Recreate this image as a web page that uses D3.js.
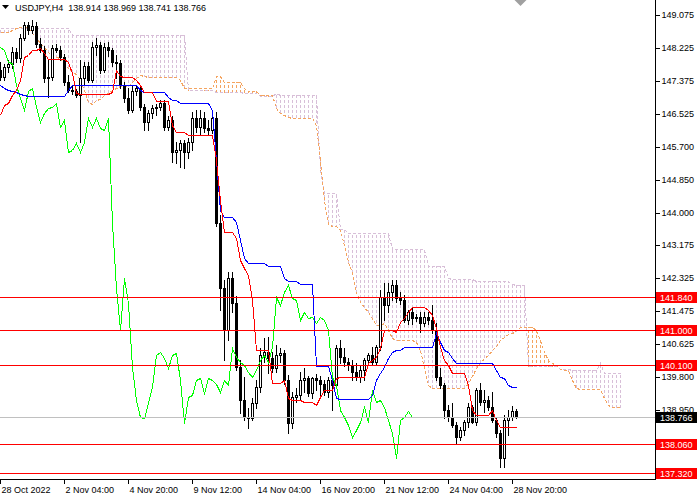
<!DOCTYPE html>
<html>
<head>
<meta charset="utf-8">
<script src="https://cdn.jsdelivr.net/npm/d3@7"></script>
<style>
body { margin: 0; background: #fff; }
svg { display: block; font-family: "Liberation Sans", Arial, sans-serif; font-size: 9px; }
</style>
</head>
<body>
<div id="chart"></div>
<script>
// USDJPY H4, bar 0 = 28 Oct 2022 00:00
const header = 'USDJPY,H4  138.914 138.969 138.741 138.766';

const open = [147.66,147.49,147.74,147.82,148.13,147.97,148.49,148.82,148.69,148.79,
  148.33,148.18,147.46,147.49,148.23,148.18,148.00,147.36,147.15,147.13,
  147.02,147.46,147.77,147.41,148.25,148.31,147.66,148.25,148.18,147.87,
  147.84,147.28,146.95,146.64,147.13,147.20,146.72,146.33,146.56,146.69,
  146.72,146.82,146.20,146.38,145.56,145.61,145.79,145.56,145.82,146.43,
  146.20,146.43,146.18,146.13,146.43,143.74,142.07,141.00,142.33,141.69,
  140.05,139.20,138.76,138.74,139.12,139.53,140.35,140.43,140.28,140.02,
  140.35,140.41,139.71,138.61,139.28,139.33,139.71,139.76,139.38,139.76,
  139.71,139.61,139.41,139.71,139.58,140.53,140.30,140.17,140.10,139.92,
  139.79,139.97,140.23,140.35,140.17,140.56,141.84,141.64,141.97,142.15,
  141.82,141.77,141.25,141.46,141.30,141.33,141.18,141.33,141.25,141.00,
  139.79,139.58,138.94,138.76,138.56,138.25,138.43,138.64,139.02,138.64,
  139.46,139.15,139.20,139.02,138.69,138.35,137.71,138.69,138.76,138.914];

const high = [147.87,147.82,147.92,148.25,148.23,148.59,148.90,148.90,148.95,148.90,
  148.49,148.28,147.92,148.31,148.33,148.28,148.08,147.54,147.25,147.18,
  147.92,147.87,147.87,148.38,148.49,148.38,148.36,148.38,148.23,148.05,
  147.92,147.36,147.20,147.25,147.28,147.25,146.79,146.64,146.77,146.79,
  146.90,146.90,146.49,146.49,145.82,145.87,145.87,145.92,146.59,146.64,
  146.64,146.59,146.38,146.64,146.59,143.95,142.28,142.48,142.48,141.87,
  140.23,139.79,139.00,139.25,139.71,140.53,140.79,140.82,140.43,140.61,
  140.53,140.48,139.84,139.41,139.51,139.92,140.02,139.82,139.79,139.87,
  139.82,139.71,139.79,139.76,140.61,140.74,140.53,140.28,140.23,140.15,
  140.10,140.28,140.41,140.56,140.61,142.02,142.20,142.20,142.28,142.28,
  141.97,141.89,141.51,141.56,141.41,141.46,141.46,141.46,141.64,141.18,
  140.02,139.64,139.07,139.12,138.64,138.51,138.69,139.12,139.07,139.51,
  139.64,139.46,139.30,139.41,138.76,138.43,138.82,138.94,139.05,138.969];

const low = [147.41,147.41,147.61,147.72,147.87,147.87,148.43,148.59,148.61,148.25,
  148.13,147.36,146.97,147.41,148.13,147.92,147.28,147.10,147.05,146.97,
  145.82,147.31,147.36,147.36,148.05,147.59,147.61,148.02,147.77,147.46,
  147.20,146.84,146.56,146.59,147.02,146.64,146.13,146.13,146.43,146.51,
  146.64,146.13,146.13,145.31,145.28,145.18,145.15,145.41,145.61,146.07,
  146.00,146.07,146.00,146.05,143.66,141.51,140.23,140.74,141.46,139.97,
  138.87,138.69,138.48,138.69,139.00,139.41,140.17,139.89,139.92,139.92,
  140.17,139.61,138.35,138.48,139.15,139.20,139.41,139.30,139.25,139.46,
  139.30,139.33,139.28,138.94,139.51,140.15,140.07,139.97,139.71,139.71,
  139.66,139.71,140.15,140.10,140.12,140.48,141.25,141.46,141.77,141.71,
  141.66,141.20,141.15,141.15,141.23,140.94,141.10,141.15,140.92,139.71,
  139.51,138.74,138.66,138.51,138.10,138.17,138.30,138.51,138.61,138.56,
  139.07,138.89,138.94,138.64,138.25,137.48,137.48,138.30,138.69,138.741];

const close = [147.49,147.74,147.82,148.13,147.97,148.49,148.82,148.69,148.79,148.33,
  148.18,147.46,147.49,148.23,148.18,148.00,147.36,147.15,147.13,147.02,
  147.46,147.77,147.41,148.25,148.31,147.66,148.25,148.18,147.87,147.84,
  147.28,146.95,146.64,147.13,147.20,146.72,146.33,146.56,146.69,146.72,
  146.82,146.20,146.38,145.56,145.61,145.79,145.56,145.82,146.43,146.20,
  146.43,146.18,146.13,146.43,143.74,142.07,141.00,142.33,141.69,140.05,
  139.20,138.76,138.74,139.12,139.53,140.35,140.43,140.28,140.02,140.35,
  140.41,139.71,138.61,139.28,139.33,139.71,139.76,139.38,139.76,139.71,
  139.61,139.41,139.71,139.58,140.53,140.30,140.17,140.10,139.92,139.79,
  139.97,140.23,140.35,140.17,140.56,141.84,141.64,141.97,142.15,141.82,
  141.77,141.25,141.46,141.30,141.33,141.18,141.33,141.25,141.00,139.79,
  139.58,138.94,138.76,138.56,138.25,138.43,138.64,139.02,138.64,139.46,
  139.15,139.20,139.02,138.69,138.35,137.71,138.69,138.76,138.92,138.766];

// Ichimoku lines as [from bar, value] steps
const tenkanSteps = [[0,146.51],[1,146.77],[2,146.82],[3,147.02],[4,147.15],[5,147.41],[6,148.00],
  [7,148.05],[8,148.18],[10,148.23],[11,148.10],[12,147.95],[17,147.87],[18,147.59],[19,147.07],
  [20,147.05],[28,147.10],[29,147.66],[30,147.51],[31,147.49],[34,147.41],[35,147.28],[36,147.10],
  [39,146.87],[43,146.25],[44,146.07],[47,146.00],[54,145.36],[55,144.33],[56,143.51],[59,143.36],
  [60,142.79],[61,142.59],[62,142.41],[63,141.77],[64,140.48],[68,139.64],[71,139.71],[72,139.25],
  [73,139.20],[76,139.15],[79,139.07],[80,139.28],[81,139.46],[84,139.76],[85,139.79],[92,140.15],
  [93,140.23],[94,140.30],[95,140.53],[96,141.00],[99,140.94],[100,141.20],[101,141.30],[102,141.46],
  [103,141.59],[107,141.51],[108,141.38],[109,141.05],[110,140.56],[111,140.23],[112,140.10],
  [113,139.89],[117,139.58],[118,138.94],[119,138.82],[123,138.94],[124,138.69],[125,138.51]];

const kijunSteps = [[0,147.28],[1,147.20],[2,147.15],[3,147.13],[4,147.10],[5,147.05],[6,147.02],
  [7,147.00],[17,147.15],[18,147.28],[35,147.15],[36,147.10],[42,146.97],[43,146.90],[45,146.82],
  [53,146.64],[54,145.36],[55,144.07],[56,143.89],[59,143.77],[60,143.30],[61,142.84],[62,142.71],
  [67,142.64],[71,142.33],[72,142.25],[75,142.18],[79,140.07],[83,139.71],[84,139.25],[85,139.23],
  [93,139.33],[94,139.71],[95,139.89],[96,140.05],[97,140.28],[98,140.43],[99,140.48],[101,140.56],
  [109,140.92],[110,140.69],[111,140.48],[112,140.43],[113,140.28],[114,140.15],[124,139.97],
  [125,139.79],[126,139.76],[127,139.58],[128,139.53]];

const spanASteps = [[0,148.64],[3,148.69],[4,148.74],[5,148.77],[6,148.79],[7,148.74],[8,148.61],
  [9,148.49],[10,148.36],[11,148.25],[12,148.13],[13,148.05],[14,148.00],[15,147.97],[16,147.82],
  [17,147.72],[18,147.61],[19,147.56],[20,147.41],[21,147.15],[22,146.84],[23,146.79],[24,146.90],
  [25,146.92],[26,147.02],[27,147.07],[28,147.15],[29,147.20],[30,147.25],[33,147.36],[34,147.46],
  [35,147.54],[36,147.51],[37,147.49],[45,147.41],[46,147.20],[54,147.51],[56,147.36],[61,147.20],
  [62,147.13],[65,147.02],[69,146.69],[70,146.56],[71,146.51],[72,146.46],[73,146.43],[79,146.25],
  [80,145.36],[81,144.33],[82,143.71],[83,143.66],[85,143.56],[86,143.18],[87,142.74],[88,142.48],
  [89,141.97],[90,141.71],[91,141.59],[92,141.46],[93,141.30],[94,141.12],[96,141.18],[97,141.00],
  [98,140.79],[99,140.74],[104,140.69],[105,140.48],[106,140.02],[107,139.58],[108,139.51],
  [117,139.64],[118,139.82],[119,140.02],[120,140.15],[121,140.28],[122,140.35],[123,140.48],
  [124,140.59],[125,140.74],[126,140.82],[127,140.89],[128,140.92],[129,140.97],[130,141.07],
  [134,141.00],[135,140.74],[136,140.43],[137,140.23],[138,140.15],[139,140.10],[140,140.00],
  [141,139.97],[143,139.71],[144,139.51],[145,139.48],[151,139.25],[152,139.07],[153,139.02]];

const spanBSteps = [[0,148.74],[18,148.56],[47,147.15],[54,147.10],[61,147.07],[65,147.00],
  [69,147.07],[70,147.02],[80,145.10],[81,144.51],[85,143.59],[87,143.48],[98,143.07],[107,142.64],
  [112,142.33],[113,142.30],[119,142.25],[128,142.18],[129,142.15],[132,140.07],[140,140.00],
  [143,139.97],[150,140.15],[151,139.89]];

const levels = [141.840, 141.000, 140.100, 138.060, 137.320];
const bid = 138.766;
const priceTicks = [149.075, 148.225, 147.375, 146.525, 145.700, 144.850, 144.000, 143.175,
  142.325, 141.475, 140.625, 139.800, 138.950, 138.100, 137.250];
const timeTicks = [0, 16, 32, 48, 64, 80, 96, 112, 128];
const timeLabels = ['28 Oct 2022', '2 Nov 04:00', '4 Nov 20:00', '9 Nov 12:00', '14 Nov 04:00',
  '16 Nov 20:00', '21 Nov 12:00', '24 Nov 04:00', '28 Nov 20:00'];

const shift = 26;
const n = close.length;
const plotW = 655, plotH = 479;

// hold each value until the next step starts
function fromSteps(list, len) {
  const out = [];
  let k = 0;
  for (let i = 0; i < len; i++) {
    while (k + 1 < list.length && list[k + 1][0] <= i) k++;
    out.push(list[k][1]);
  }
  return out;
}
const tenkan = fromSteps(tenkanSteps, n);
const kijun = fromSteps(kijunSteps, n);
const spanA = fromSteps(spanASteps, n + shift);
const spanB = fromSteps(spanBSteps, n + shift);

const svg = d3.select('#chart').append('svg')
  .attr('width', 700).attr('height', 500);

const x = d3.scaleLinear().domain([0, 160]).range([0.5, 640.5]);
const y = d3.scaleLinear().domain([137.32, 149.075]).range([473.3, 15]);
const py = v => Math.round(y(v));

svg.append('defs').append('clipPath').attr('id', 'plot')
  .append('rect').attr('width', plotW).attr('height', plotH);

const g = svg.append('g').attr('clip-path', 'url(#plot)')
  .attr('shape-rendering', 'crispEdges');

// Kumo hatch: one dashed vertical per bar, dashes lined up in rows
g.append('g').selectAll('line')
  .data(d3.range(n + shift))
  .join('line')
  .attr('x1', i => x(i)).attr('x2', i => x(i))
  .attr('y1', i => py(Math.max(spanA[i], spanB[i])))
  .attr('y2', i => py(Math.min(spanA[i], spanB[i])) + 1)
  .attr('stroke', i => spanB[i] > spanA[i] ? '#D8BFD8' : '#F4A460')
  .attr('stroke-dasharray', '3,2')
  .attr('stroke-dashoffset', i => py(Math.max(spanA[i], spanB[i])) % 5);

const line = d3.line().x(d => x(d[0])).y(d => py(d[1]) + 0.5);

g.append('path')
  .attr('d', line(spanB.map((v, i) => [i, v])))
  .attr('fill', 'none').attr('stroke', '#D8BFD8').attr('stroke-dasharray', '3,2');
g.append('path')
  .attr('d', line(spanA.map((v, i) => [i, v])))
  .attr('fill', 'none').attr('stroke', '#F4A460').attr('stroke-dasharray', '3,2');

// candles
const bars = d3.range(n);
g.append('g').selectAll('line')
  .data(bars)
  .join('line')
  .attr('x1', i => x(i)).attr('x2', i => x(i))
  .attr('y1', i => py(high[i]))
  .attr('y2', i => py(low[i]) + 1)
  .attr('stroke', '#000');

g.append('g').selectAll('rect')
  .data(bars)
  .join('rect')
  .each(function (i) {
    const top = py(Math.max(open[i], close[i]));
    const bot = py(Math.min(open[i], close[i]));
    const r = d3.select(this);
    if (close[i] < open[i]) {
      r.attr('x', x(i) - 1.5).attr('y', top)
        .attr('width', 3).attr('height', Math.max(1, bot - top + 1))
        .attr('fill', '#000');
    } else {
      r.attr('x', x(i) - 1).attr('y', top + 0.5)
        .attr('width', 2).attr('height', Math.max(0, bot - top))
        .attr('fill', '#fff').attr('stroke', '#000');
    }
  });

// Chikou, Kijun, Tenkan
g.append('path')
  .attr('d', line(close.slice(shift).map((v, i) => [i, v])))
  .attr('fill', 'none').attr('stroke', '#00FF00');
g.append('path')
  .attr('d', line(kijun.map((v, i) => [i, v])))
  .attr('fill', 'none').attr('stroke', '#0000FF');
g.append('path')
  .attr('d', line(tenkan.map((v, i) => [i, v])))
  .attr('fill', 'none').attr('stroke', '#FF0000');

// horizontal levels and bid line
g.append('g').selectAll('line')
  .data(levels)
  .join('line')
  .attr('x1', 0).attr('x2', plotW)
  .attr('y1', d => py(d) + 0.5).attr('y2', d => py(d) + 0.5)
  .attr('stroke', '#FF0000');
g.append('line')
  .attr('x1', 0).attr('x2', plotW)
  .attr('y1', py(bid) + 0.5).attr('y2', py(bid) + 0.5)
  .attr('stroke', '#C0C0C0');

// chart shift marker
svg.append('path')
  .attr('d', `M${x(129) - 2},0L${x(129) + 10},0L${x(129) + 4},6Z`)
  .attr('fill', '#A0A0A0');

// axes
const axisFont = a => a.attr('font-family', null).attr('font-size', null);

const yr = y.copy().interpolate(d3.interpolateRound);
svg.append('g')
  .attr('transform', `translate(${plotW + 0.5},0)`)
  .attr('shape-rendering', 'crispEdges')
  .call(d3.axisRight(yr).tickValues(priceTicks).tickFormat(d3.format('.3f'))
    .tickSize(4).tickSizeOuter(0).tickPadding(2).offset(0.5))
  .call(axisFont)
  .call(a => a.select('.domain').remove())
  .call(a => a.selectAll('text').attr('fill', '#000'));

svg.append('g')
  .attr('transform', `translate(0,${plotH + 0.5})`)
  .attr('shape-rendering', 'crispEdges')
  .call(d3.axisBottom(x).tickValues(timeTicks).tickFormat((d, i) => timeLabels[i])
    .tickSize(4).tickSizeOuter(0).tickPadding(3).offset(0))
  .call(axisFont)
  .call(a => a.select('.domain').remove())
  .call(a => a.selectAll('text').attr('text-anchor', 'start').attr('x', 1).attr('fill', '#000'));

svg.append('path')
  .attr('d', `M${plotW + 0.5},0V${plotH + 0.5}H0`)
  .attr('fill', 'none').attr('stroke', '#000')
  .attr('shape-rendering', 'crispEdges');

// price tags on the scale
const tags = levels.map(v => ({ v, bg: '#FF0000' })).concat([{ v: bid, bg: '#000' }]);
const tag = svg.append('g').selectAll('g')
  .data(tags)
  .join('g')
  .attr('transform', d => `translate(656,${py(d.v)})`);
tag.append('rect')
  .attr('x', 0).attr('y', -5).attr('width', 41).attr('height', 11)
  .attr('fill', d => d.bg);
tag.append('text')
  .attr('x', 4).attr('y', 0.5).attr('dy', '0.35em')
  .attr('fill', '#fff')
  .text(d => d3.format('.3f')(d.v));

// header
svg.append('path').attr('d', 'M2,5L9,5L5.5,9Z').attr('fill', '#000');
svg.append('text')
  .attr('x', 15).attr('y', 11)
  .attr('fill', '#000')
  .attr('xml:space', 'preserve')
  .style('white-space', 'pre')
  .text(header);
</script>
</body>
</html>
